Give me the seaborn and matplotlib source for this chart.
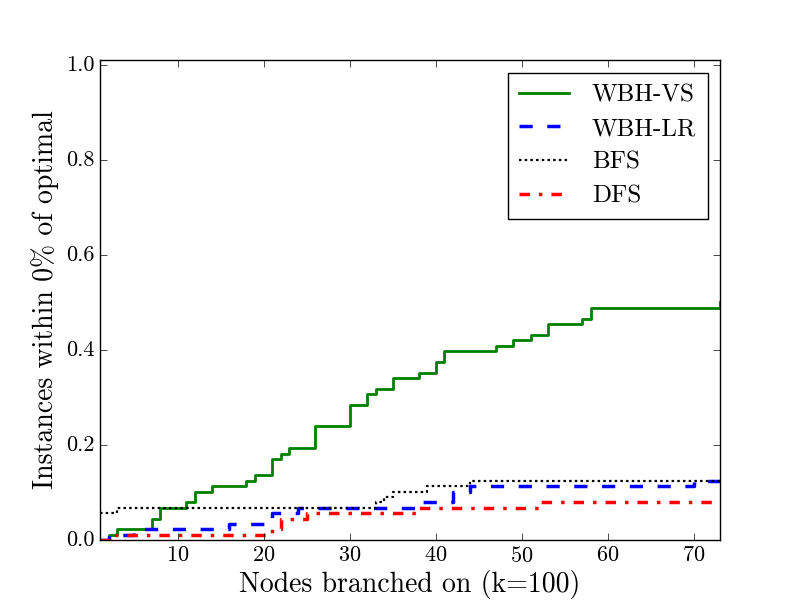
import matplotlib
matplotlib.use("Agg")
import matplotlib.pyplot as plt
import seaborn as sns

# ---- data ----
vs_x = [1, 2, 3, 7, 8, 11, 12, 14, 18, 19, 21, 22, 23, 26, 30, 32, 33, 35, 38, 40, 41, 47, 49, 51, 53, 57, 58, 73]
vs_y = [0.0, 0.011, 0.023, 0.045, 0.068, 0.080, 0.102, 0.114, 0.125, 0.136, 0.170, 0.182, 0.193, 0.239,
        0.284, 0.307, 0.318, 0.341, 0.352, 0.375, 0.398, 0.409, 0.420, 0.432, 0.455, 0.466, 0.489, 0.500]

lr_x = [1, 2, 5, 16, 21, 24, 38, 42, 44, 70, 73]
lr_y = [0.0, 0.011, 0.023, 0.034, 0.057, 0.068, 0.080, 0.102, 0.114, 0.125, 0.125]

bfs_x = [1, 3, 33, 34, 35, 39, 44, 73]
bfs_y = [0.057, 0.068, 0.080, 0.091, 0.102, 0.114, 0.125, 0.125]

dfs_x = [1, 2, 21, 22, 25, 38, 52, 73]
dfs_y = [0.0, 0.011, 0.023, 0.045, 0.057, 0.068, 0.080, 0.080]

labels = ["WBH-VS", "WBH-LR", "BFS", "DFS"]
x_ticks = [10, 20, 30, 40, 50, 60, 70]
y_ticks = [0.0, 0.2, 0.4, 0.6, 0.8, 1.0]
x_label = "Nodes branched on (k=100)"
y_label = "Instances within 0% of optimal"

# ---- style ----
plt.style.use("classic")
plt.rcParams["figure.facecolor"] = "white"
plt.rcParams["savefig.facecolor"] = "white"
plt.rcParams["font.family"] = ["cmr10", "DejaVu Serif"]
plt.rcParams["mathtext.fontset"] = "cm"
plt.rcParams["axes.formatter.use_mathtext"] = True
plt.rcParams["axes.unicode_minus"] = False
plt.rcParams["lines.scale_dashes"] = False

fig = plt.figure(figsize=(8, 6), dpi=100)
ax = fig.add_axes([0.125, 0.1, 0.775, 0.8])

series = [
    (vs_x, vs_y, labels[0], (0, 0.5, 0), "-", 2.0),
    (lr_x, lr_y, labels[1], (0, 0, 1), (0, (9.5, 10.5)), 2.5),
    (bfs_x, bfs_y, labels[2], "black", (0, (1.8, 2.3)), 1.6),
    (dfs_x, dfs_y, labels[3], (1, 0, 0), (0, (7.5, 6.5, 2.5, 6.5)), 2.5),
]
for xs, ys, lab, col, ls, lw in series:
    sns.lineplot(x=xs, y=ys, ax=ax, label=lab, color=col, linestyle=ls,
                 linewidth=lw, drawstyle="steps-post", sort=False,
                 estimator=None, errorbar=None)

ax.set_xlim(1, 73)
ax.set_ylim(0, 1.01)
ax.set_xticks(x_ticks)
ax.set_yticks(y_ticks)
ax.set_yticklabels([f"{v:.1f}" for v in y_ticks])
ax.tick_params(labelsize=16, direction="in", top=True, right=True, length=5)
ax.set_xlabel(x_label, fontsize=20, labelpad=3)
ax.set_ylabel(y_label, fontsize=20, labelpad=5)

leg = ax.legend(loc="upper right", fontsize=18, handlelength=2.0,
                labelspacing=0.45, borderaxespad=0.5, borderpad=0.45,
                fancybox=False, frameon=True, numpoints=1, handletextpad=0.9)
leg.get_frame().set_edgecolor("black")
leg.get_frame().set_linewidth(1.0)

fig.savefig("out.png", dpi=100)
